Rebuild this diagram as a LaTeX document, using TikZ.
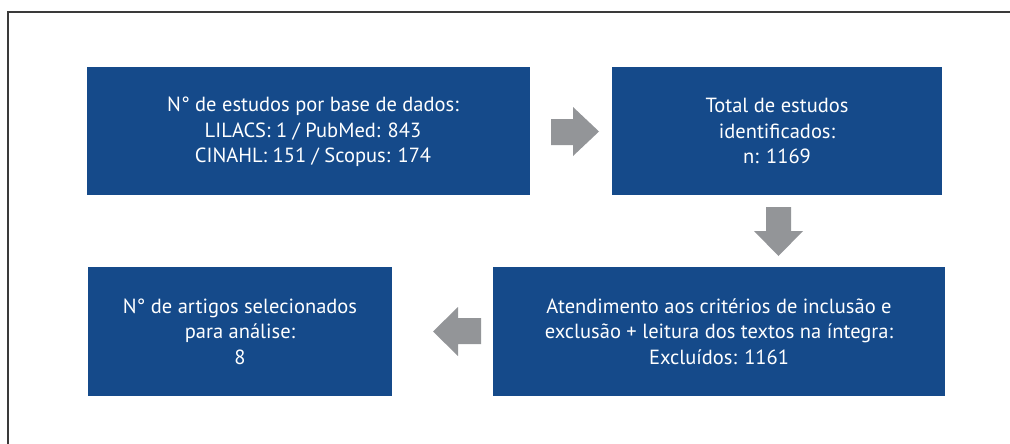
\documentclass[tikz,border=0pt]{standalone}
\usepackage{fontspec}
\setmainfont{PT Sans}
\definecolor{boxblue}{HTML}{154A8A}
\definecolor{arrowgray}{HTML}{939598}
\definecolor{framegray}{HTML}{3A3A3A}
\begin{document}
\begin{tikzpicture}[x=1pt,y=-1pt,
  box/.style={fill=boxblue, text=white, align=center, inner sep=0pt,
    font=\fontsize{20.5}{25.5}\selectfont},
  blockarrow/.style={fill=arrowgray}]
\useasboundingbox (0,0) rectangle (1010,444);
\draw[framegray, line width=1.4pt] (8,444) -- (8,12) -- (1010,12);
\node[box, minimum width=443pt, minimum height=128pt] (b1) at (308.5,131) {};
\node[text=white, align=center, inner sep=0pt, font=\fontsize{20.5}{25.5}\selectfont] (t1) at (313,132)
  {N° de estudos por base de dados:\\LILACS: 1 / PubMed: 843\\CINAHL: 151 / Scopus: 174};
\node[box, minimum width=330pt, minimum height=128pt] (b2) at (777,131)
  {Total de estudos\\identificados:\\n: 1169};
\node[box, minimum width=452pt, minimum height=129pt] (b3) at (719,331.5)
  {Atendimento aos critérios de inclusão e\\exclusão + leitura dos textos na íntegra:\\Excluídos: 1161};
\node[box, minimum width=304pt, minimum height=129pt] (b4) at (240,331.5)
  {N° de artigos selecionados\\para análise:\\8};
\fill[blockarrow] (551,119) -- (573,119) -- (573,107) -- (599,131.5) -- (573,156) -- (573,145) -- (551,145) -- cycle;
\fill[blockarrow] (766,207) -- (791,207) -- (791,231) -- (803,231) -- (778.5,256) -- (754,231) -- (766,231) -- cycle;
\fill[blockarrow] (481,318) -- (458,318) -- (458,307) -- (433,331.5) -- (458,356) -- (458,344) -- (481,344) -- cycle;
\end{tikzpicture}
\end{document}
